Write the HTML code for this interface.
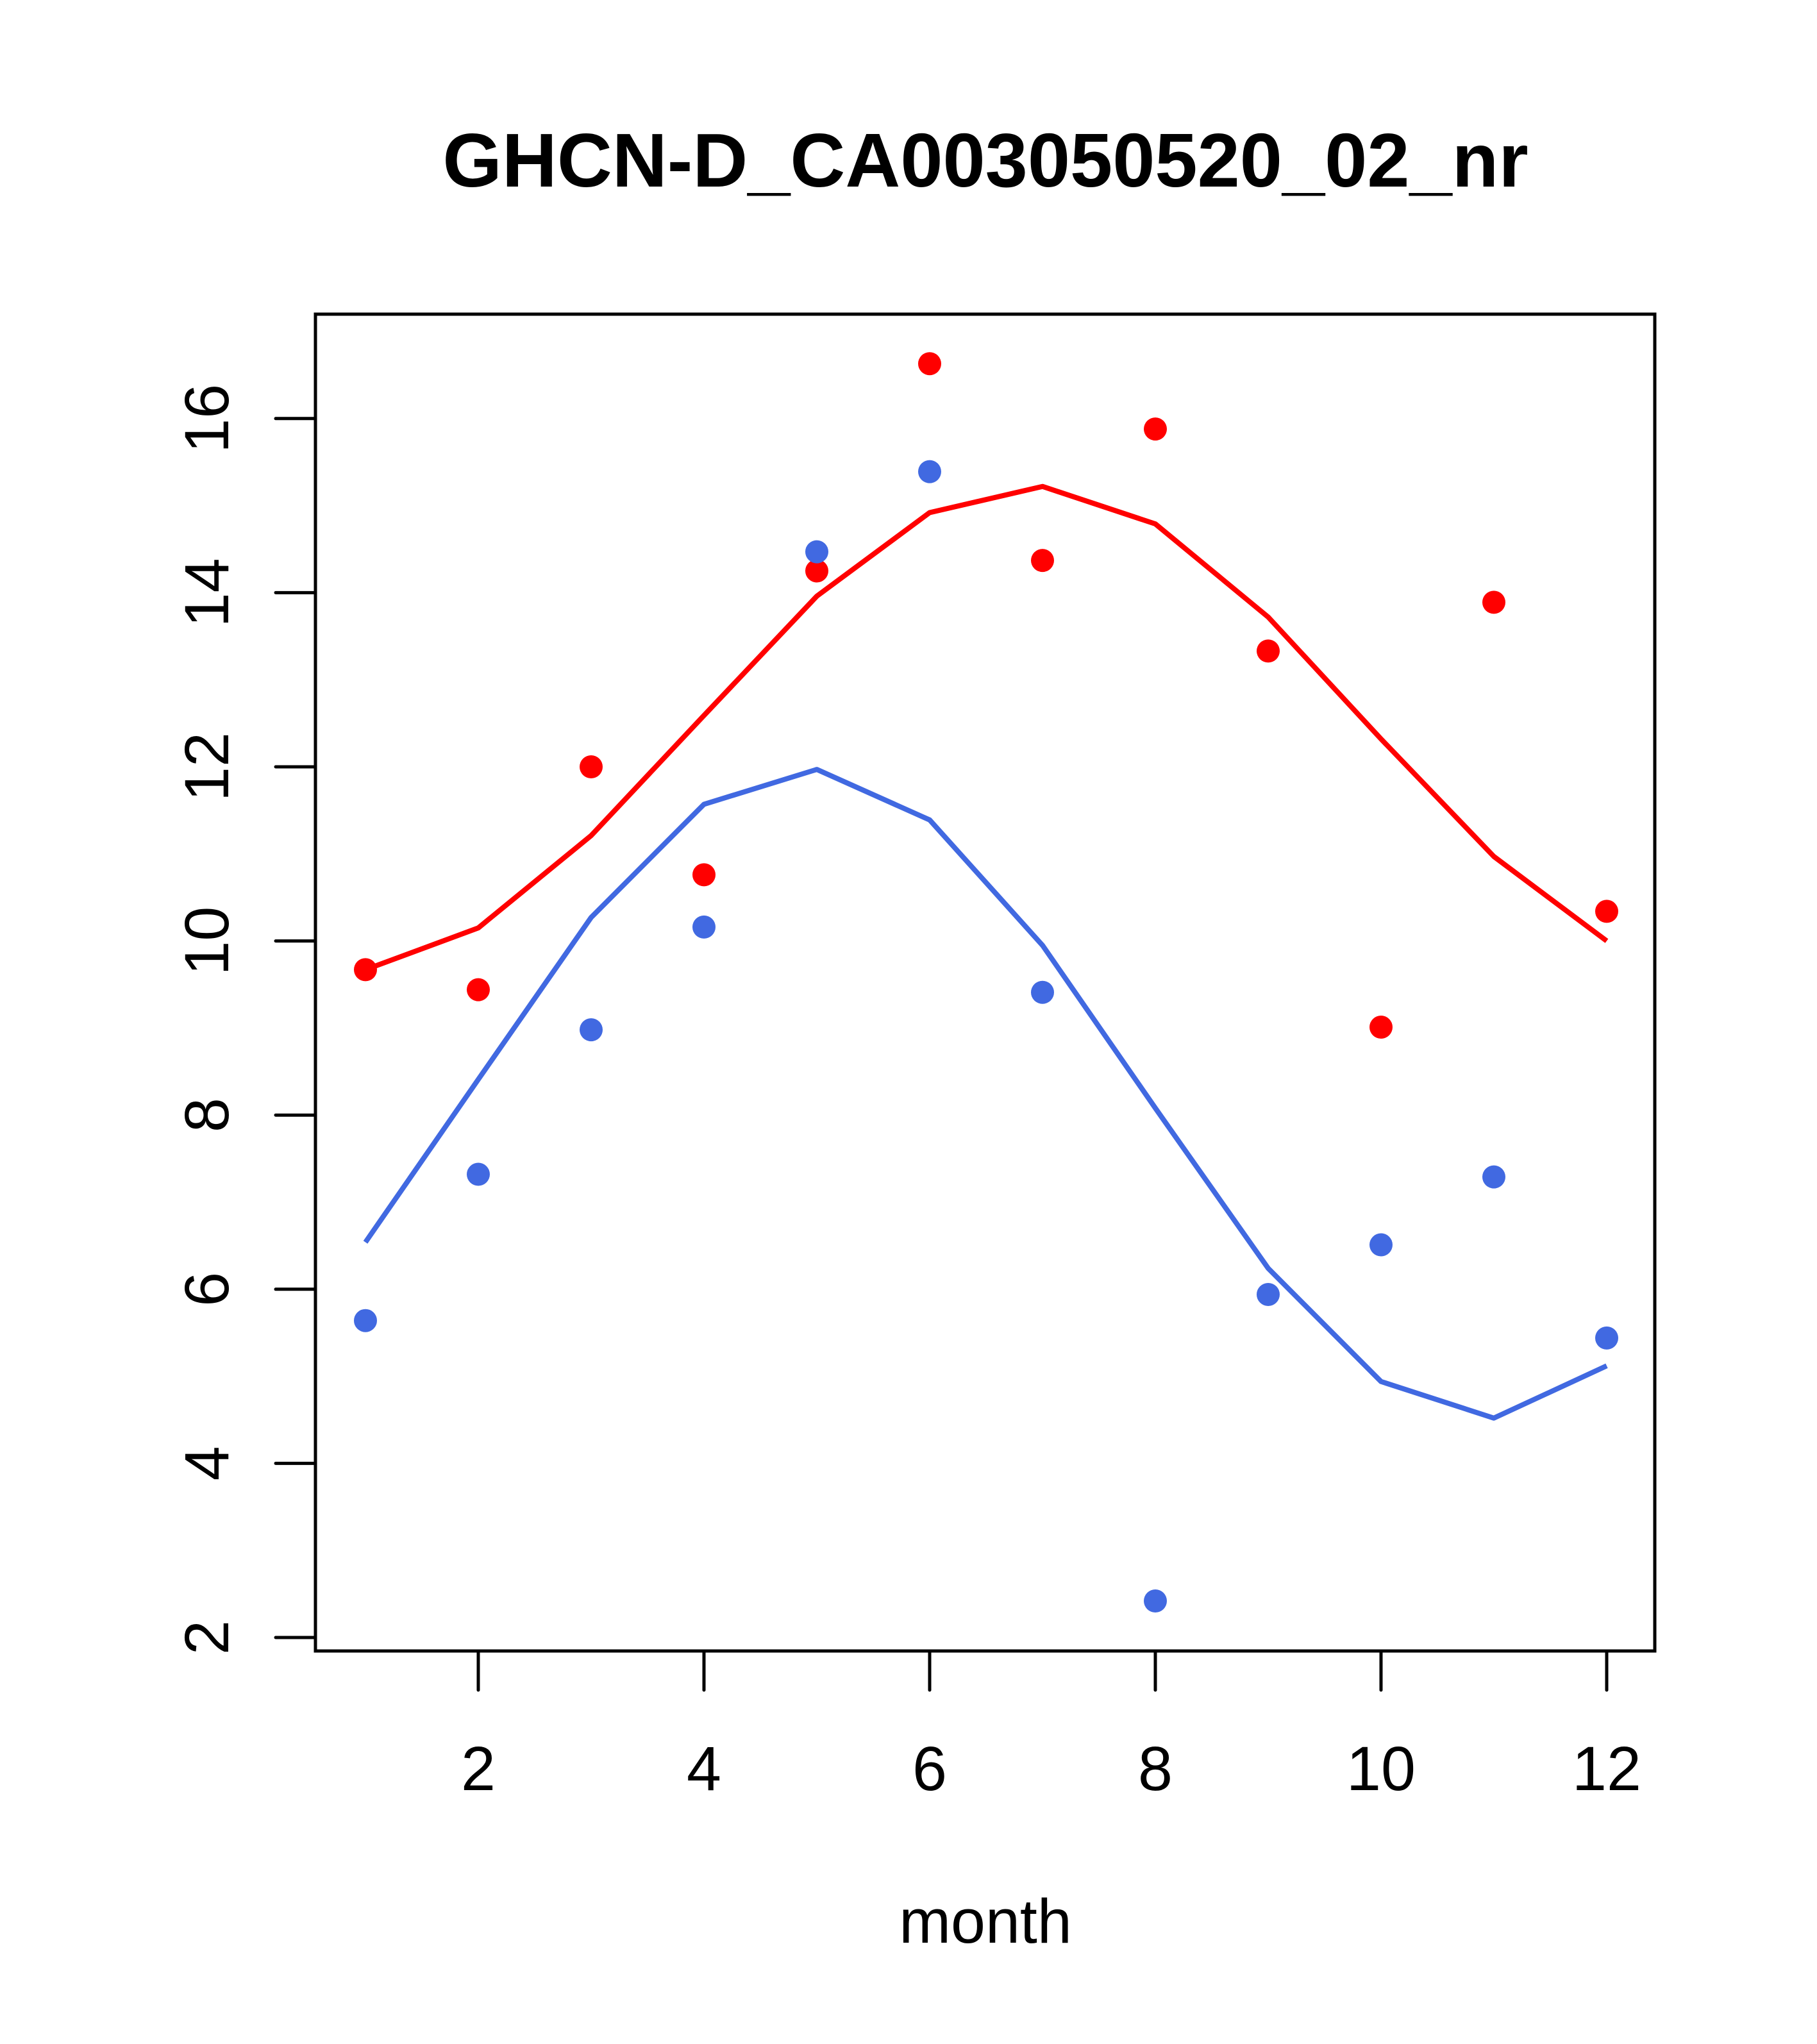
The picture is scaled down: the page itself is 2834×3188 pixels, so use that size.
<!DOCTYPE html>
<html><head><meta charset="utf-8"><style>
html,body{margin:0;padding:0;background:#fff;}
svg{display:block;font-family:"Liberation Sans",Arial,sans-serif;}
</style></head><body>
<svg id="chart" width="2834" height="3188" viewBox="0 0 2834 3188" xmlns="http://www.w3.org/2000/svg">
<rect width="2834" height="3188" fill="#fff"/>
<text x="1537" y="291" font-size="119" font-weight="bold" text-anchor="middle">GHCN-D_CA003050520_02_nr</text>
<rect x="492" y="490" width="2089" height="2085" fill="none" stroke="#000" stroke-width="5"/>
<g id="axes"></g>
<g id="series"></g>
<text x="1537" y="3030" font-size="97" text-anchor="middle">month</text>
</svg>
<script>
const months = [1,2,3,4,5,6,7,8,9,10,11,12];
const redPoints = [9.67,9.44,12.0,10.76,14.25,16.63,14.37,15.88,13.33,9.01,13.89,10.34];
const redLine = [9.67,10.15,11.21,12.59,13.96,14.92,15.22,14.79,13.72,12.32,10.97,10.0];
const bluePoints = [5.64,7.32,8.98,10.16,14.47,15.39,9.41,2.42,5.94,6.51,7.29,5.44];
const blueLine = [6.54,8.41,10.27,11.57,11.97,11.39,9.95,8.08,6.24,4.94,4.52,5.12];
const xTicks = [2,4,6,8,10,12];
const yTicks = [2,4,6,8,10,12,14,16];

const NS = "http://www.w3.org/2000/svg";
function xs(v){ return 746 + (v-2)*176; }
function ys(v){ return 2554 - (v-2)*135.8; }
function mk(tag, attrs, parent){ const e=document.createElementNS(NS,tag); for(const k in attrs) e.setAttribute(k,attrs[k]); parent.appendChild(e); return e; }

const axes = document.getElementById('axes');
const series = document.getElementById('series');

const xl = mk('line',{x1:xs(2),x2:xs(12),y1:2575,y2:2575,stroke:'#000','stroke-width':5},axes);


xTicks.forEach(t=>{
  const l = mk('line',{x1:xs(t),x2:xs(t),y1:2575,y2:2636,stroke:'#000','stroke-width':5,'stroke-linecap':'round'},axes);
  
  
  const tx = mk('text',{x:xs(t),y:2792,'font-size':97,'text-anchor':'middle'},axes);
  tx.textContent = t;
  
  
});
const yl = mk('line',{x1:492,x2:492,y1:ys(2),y2:ys(16),stroke:'#000','stroke-width':5},axes);


yTicks.forEach(t=>{
  const l = mk('line',{x1:430,x2:492,y1:ys(t),y2:ys(t),stroke:'#000','stroke-width':5,'stroke-linecap':'round'},axes);
  
  
  const tx = mk('text',{x:356,y:ys(t),'font-size':97,'text-anchor':'middle',transform:'rotate(-90 356 '+ys(t)+')'},axes);
  tx.textContent = t;
  
  
});

function drawLine(vals,color,name){
  const p = mk('polyline',{points:vals.map((v,i)=>xs(months[i])+','+ys(v)).join(' '),fill:'none',stroke:color,'stroke-width':8,'stroke-linejoin':'round'},series);
  
  
}
function drawPts(vals,color,name){
  vals.forEach((v,i)=>{
    const c = mk('circle',{cx:xs(months[i]),cy:ys(v),r:18,fill:color},series);
    
    
  });
}
drawLine(redLine,'#ff0000','red-line');
drawLine(blueLine,'#4169e1','blue-line');
drawPts(redPoints,'#ff0000','red-point');
drawPts(bluePoints,'#4169e1','blue-point');
</script>
</body></html>
